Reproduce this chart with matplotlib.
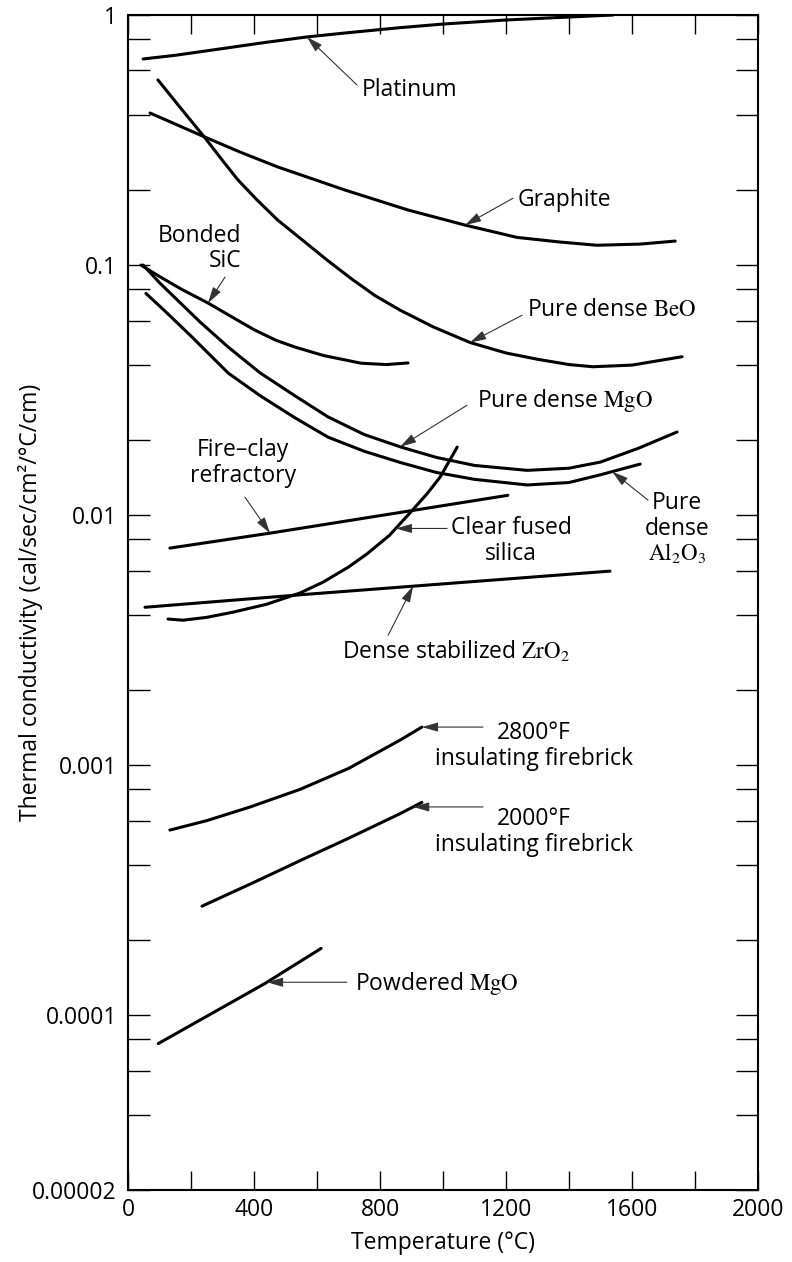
import numpy as np
import matplotlib
matplotlib.use("Agg")
from matplotlib import pyplot as plt

plt.rcParams['font.family'] = ['Open Sans', 'DejaVu Sans']
plt.rcParams['mathtext.fontset'] = 'stix'

# curves: temperature (C) and thermal conductivity
temp_platinum = [48, 150, 300, 430, 568, 700, 864, 1000, 1200, 1350, 1540]
k_platinum = [0.667, 0.69, 0.734, 0.775, 0.817, 0.85, 0.89, 0.92, 0.955, 0.975, 1.0]

temp_graphite = [70, 244, 356, 476, 689, 889, 1070, 1235, 1372, 1489, 1626, 1737]
k_graphite = [0.4055, 0.325, 0.283, 0.2466, 0.1995, 0.166, 0.1445, 0.129, 0.1236, 0.120,
              0.1213, 0.1247]

temp_beo = [95, 170, 245, 300, 349, 410, 476, 550, 635, 710, 784, 864, 970, 1086, 1200, 1300,
            1400, 1476, 1600, 1759]
k_beo = [0.55, 0.42, 0.322, 0.262, 0.219, 0.182, 0.151, 0.127, 0.104, 0.088, 0.0755, 0.066, 0.0565,
         0.049, 0.0445, 0.042, 0.040, 0.0392, 0.0398, 0.043]

temp_sic = [41, 100, 170, 254, 330, 402, 470, 530, 620, 740, 820, 889]
k_sic = [0.1, 0.09, 0.08, 0.0705, 0.062, 0.055, 0.050, 0.047, 0.0435, 0.0405, 0.040, 0.0406]

temp_mgo = [48, 100, 159, 230, 318, 420, 530, 635, 750, 867, 980, 1100, 1267, 1400, 1500, 1620, 1743]
k_mgo = [0.1, 0.085, 0.072, 0.059, 0.047, 0.037, 0.030, 0.0247, 0.021, 0.0187, 0.0170, 0.0158,
         0.0151, 0.0154, 0.0163, 0.0185, 0.0215]

temp_al2o3 = [57, 120, 200, 318, 420, 530, 635, 750, 867, 980, 1100, 1267, 1400, 1500, 1626]
k_al2o3 = [0.077, 0.065, 0.052, 0.037, 0.030, 0.0245, 0.0205, 0.018, 0.0162, 0.0148, 0.0139,
           0.0132, 0.0135, 0.0145, 0.016]

temp_fireclay = [133, 451, 1206]
k_fireclay = [0.00738, 0.00847, 0.0120]

temp_silica = [127, 175, 250, 333, 440, 546, 620, 700, 759, 830, 895, 950, 991, 1045]
k_silica = [0.00384, 0.0038, 0.0039, 0.00409, 0.0044, 0.00488, 0.0054, 0.0062, 0.0070, 0.0083,
            0.0102, 0.0122, 0.0142, 0.0187]

temp_zro2 = [54, 546, 1530]
k_zro2 = [0.00428, 0.0048, 0.00597]

temp_brick2800 = [133, 250, 387, 546, 700, 864, 933]
k_brick2800 = [0.00055, 0.0006, 0.00068, 0.0008, 0.00097, 0.00126, 0.00142]

temp_brick2000 = [235, 400, 546, 700, 864, 933]
k_brick2000 = [0.000273, 0.00034, 0.000415, 0.00051, 0.00064, 0.00071]

temp_powder = [96, 435, 613]
k_powder = [7.7e-5, 1.34e-4, 1.85e-4]

x_ticks = [0, 400, 800, 1200, 1600, 2000]
y_ticks = [2e-5, 1e-4, 1e-3, 1e-2, 1e-1, 1]
y_tick_labels = ["0.00002", "0.0001", "0.001", "0.01", "0.1", "1"]

curves = [
    (temp_platinum, k_platinum),
    (temp_graphite, k_graphite),
    (temp_beo, k_beo),
    (temp_sic, k_sic),
    (temp_mgo, k_mgo),
    (temp_al2o3, k_al2o3),
    (temp_fireclay, k_fireclay),
    (temp_silica, k_silica),
    (temp_zro2, k_zro2),
    (temp_brick2800, k_brick2800),
    (temp_brick2000, k_brick2000),
    (temp_powder, k_powder),
]


def on_curve(t, temps, ks):
    return 10 ** np.interp(t, temps, np.log10(ks))


fig = plt.figure(figsize=(7.92, 12.62), dpi=100)
ax = fig.add_axes([128 / 792, 1 - 1190 / 1262, 630 / 792, 1175 / 1262])

for temps, ks in curves:
    ax.plot(temps, ks, color='black', lw=2.2, solid_capstyle='round', solid_joinstyle='round')

ax.set_yscale('log')
ax.set_xlim(0, 2000)
ax.set_ylim(2e-5, 1)

ax.set_xticks(x_ticks)
ax.set_xticks(np.arange(0, 2001, 200), minor=True)
ax.set_yticks(y_ticks, y_tick_labels)
minor_y = [m * 10.0 ** e for e in range(-5, 0) for m in (2, 4, 6, 8)]
ax.set_yticks([v for v in minor_y if 2e-5 < v < 1], minor=True)
ax.yaxis.set_minor_formatter(plt.NullFormatter())

ax.tick_params(which='both', direction='in', top=True, right=True, width=1, labelsize=16.5)
ax.tick_params(axis='x', which='both', length=14, pad=6)
ax.tick_params(axis='y', which='both', length=16, pad=8)
for s in ax.spines.values():
    s.set_linewidth(1.5)

ax.set_xlabel("Temperature (°C)", fontsize=16.5, labelpad=6)
ax.set_ylabel("Thermal conductivity (cal/sec/cm²/°C/cm)", fontsize=16.5)
ax.yaxis.set_label_coords(-0.135, 0.5)

arrow = dict(arrowstyle='-|>,head_length=0.7,head_width=0.2', lw=0.8, color='#333333',
             shrinkA=0, shrinkB=0, mutation_scale=14)
fs = 16.5


def label(text, x, y, ha='center'):
    ax.text(x, y, text, fontsize=fs, ha=ha, va='center', linespacing=1.1)


def pointer(tail_t, tail_k, tip_t, temps, ks, flat=False):
    tip_k = on_curve(tip_t, temps, ks)
    if flat:
        tail_k = tip_k
    ax.annotate('', xy=(tip_t, tip_k), xytext=(tail_t, tail_k), arrowprops=arrow)


label("Platinum", 895, 0.501)
pointer(727, 0.525, 568, temp_platinum, k_platinum)

label("Graphite", 1238, 0.182, ha='left')
pointer(1222, 0.185, 1070, temp_graphite, k_graphite)

ax.text(359, 0.1164, "Bonded\nSiC", fontsize=fs, ha='right', va='center',
        multialignment='right', linespacing=1.1)
pointer(308, 0.0895, 254, temp_sic, k_sic)

label(r"Pure dense $\mathrm{BeO}$", 1267, 0.066, ha='left')
pointer(1251, 0.063, 1086, temp_beo, k_beo)

label(r"Pure dense $\mathrm{MgO}$", 1108, 0.0288, ha='left')
pointer(1076, 0.0275, 864, temp_mgo, k_mgo)

label("Pure\ndense\n" + r"$\mathrm{Al_2O_3}$", 1743, 0.00879)
pointer(1651, 0.01148, 1537, temp_al2o3, k_al2o3)

label("Fire\u2013clay\nrefractory", 365, 0.0162)
pointer(371, 0.0118, 451, temp_fireclay, k_fireclay)

label("Clear fused\nsilica", 1216, 0.00787)
pointer(1013, 0, 850, temp_silica, k_silica, flat=True)

label(r"Dense stabilized $\mathrm{ZrO_2}$", 1041, 0.00283)
pointer(826, 0.00331, 905, temp_zro2, k_zro2)

label("2800°F\ninsulating firebrick", 1289, 0.00119)
pointer(1127, 0, 933, temp_brick2800, k_brick2800, flat=True)

label("2000°F\ninsulating firebrick", 1289, 0.00054)
pointer(1127, 0, 905, temp_brick2000, k_brick2000, flat=True)

label(r"Powdered $\mathrm{MgO}$", 721, 1.343e-4, ha='left')
pointer(695, 0, 441, temp_powder, k_powder, flat=True)

fig.savefig("out.png", dpi=100)
